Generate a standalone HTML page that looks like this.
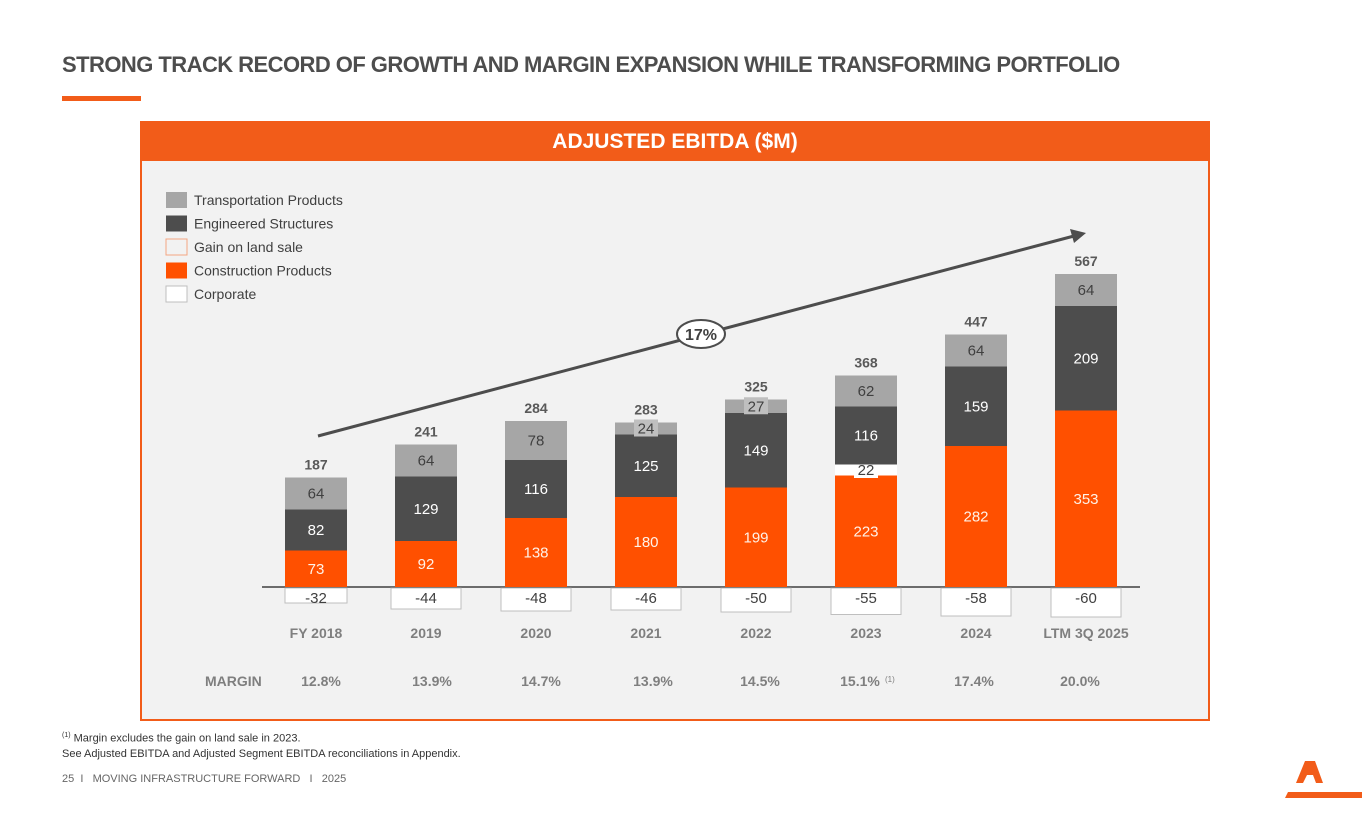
<!DOCTYPE html>
<html><head><meta charset="utf-8">
<style>
body{margin:0;width:1365px;height:829px;background:#fff;position:relative;overflow:hidden;font-family:"Liberation Sans",sans-serif;}
.t{position:absolute;white-space:nowrap;}
</style></head>
<body>
<div class="t" style="left:62px;top:52px;font-size:22px;font-weight:bold;color:#4d4d4d;letter-spacing:-0.55px;">STRONG TRACK RECORD OF GROWTH AND MARGIN EXPANSION WHILE TRANSFORMING PORTFOLIO</div>
<div style="position:absolute;left:62px;top:96px;width:79px;height:5px;background:#f25c19;"></div>
<div style="position:absolute;left:140px;top:121px;width:1066px;height:596px;background:#f2f2f2;border:2px solid #f25c19;"></div>
<div style="position:absolute;left:140px;top:121px;width:1070px;height:40px;background:#f25c19;color:#fff;font-weight:bold;font-size:21px;text-align:center;line-height:42px;">ADJUSTED EBITDA ($M)</div>
<svg id="c" width="1365" height="829" style="position:absolute;left:0;top:0;" font-family="Liberation Sans, sans-serif"></svg>
<div class="t" style="left:62px;top:728px;font-size:11px;color:#333;line-height:15px;"><sup style="font-size:7px">(1)</sup> Margin excludes the gain on land sale in 2023.<br>See Adjusted EBITDA and Adjusted Segment EBITDA reconciliations in Appendix.</div>
<div class="t" style="left:62px;top:773px;font-size:11px;color:#666;">25&nbsp; I &nbsp; MOVING INFRASTRUCTURE FORWARD &nbsp; I &nbsp; 2025</div>
<svg style="position:absolute;left:1285px;top:755px" width="80" height="45"><polygon points="20,6 30,6 38,28 31,28 28,20 22,20 18,28 11,28" fill="#f25c19"/><polygon points="3,37 77,37 77,43 0,43" fill="#f25c19"/></svg>
<script>
const categories=["FY 2018","2019","2020","2021","2022","2023","2024","LTM 3Q 2025"];
const construction=[73,92,138,180,199,223,282,353];
const landSale=[0,0,0,0,0,22,0,0];
const engineered=[82,129,116,125,149,116,159,209];
const transport=[64,64,78,24,27,62,64,64];
const corporate=[-32,-44,-48,-46,-50,-55,-58,-60];
const totals=[187,241,284,283,325,368,447,567];
const margins=["12.8%","13.9%","14.7%","13.9%","14.5%","15.1%","17.4%","20.0%"];
const legendLabels=["Transportation Products","Engineered Structures","Gain on land sale","Construction Products","Corporate"];
const cagr="17%";

const svg=document.getElementById('c');
const NS="http://www.w3.org/2000/svg";
const base=587, k=0.5, x0=316, step=110, bw=62;
const y=v=>base-v*k;
const xc=i=>x0+i*step;
const marginShift=[5,6,5,7,4,-6,-2,-6];
function el(tag,attrs,txt){const e=document.createElementNS(NS,tag);for(const a in attrs)e.setAttribute(a,attrs[a]);if(txt!=null)e.textContent=txt;svg.appendChild(e);return e;}
const lfill=["#a6a6a6","#4d4d4d","#f2f2f2","#ff5000","#fff"],lstroke=["none","none","#f4a582","none","#bfbfbf"];
legendLabels.forEach((l,i)=>{
 const r=el('rect',{x:166,y:192+i*23.5,width:21,height:16,fill:lfill[i],stroke:lstroke[i]});
 
 
 const t=el('text',{x:194,y:205+i*23.5,'font-size':14,fill:'#404040'},l);
 
 
});
const bl=el('line',{x1:262,x2:1140,y1:base,y2:base,stroke:'#404040','stroke-width':1.5});


function lab(x,yy,txt,fill,bg){
 if(bg){const w=txt.length*9+6;const r=el('rect',{x:x-w/2,y:yy-9,width:w,height:17,fill:bg});}
 const t=el('text',{x:x,y:yy+5,'font-size':15,fill:fill,'text-anchor':'middle'},txt);
 
 
}
categories.forEach((c,i)=>{
 const x=xc(i)-bw/2;let cum=0;
 const segs=[[construction[i],'#ff5000','#fff2e8',null],[landSale[i],'#fff','#404040','#fff'],[engineered[i],'#4d4d4d','#fff',null],[transport[i],'#a6a6a6','#404040',transport[i]<40?'#bfbfbf':null]];
 segs.forEach((s,j)=>{
  if(!s[0])return;
  const r=el('rect',{x:x,y:y(cum+s[0]),width:bw,height:s[0]*k,fill:s[1]});
  
  
  lab(xc(i),y(cum+s[0]/2),String(s[0]),s[2],s[3]);
  cum+=s[0];
 });
 const cw=bw+8;
 const cr=el('rect',{x:xc(i)-cw/2+(i==0?4:0),y:base+1,width:cw-(i==0?8:0),height:-corporate[i]*k-1,fill:'#fff',stroke:'#bfbfbf'});
 
 
 const ct=el('text',{x:xc(i),y:base+16,'font-size':15,fill:'#404040','text-anchor':'middle'},String(corporate[i]));
 
 
 const tt=el('text',{x:xc(i),y:y(cum)-8,'font-size':14,'font-weight':'bold',fill:'#595959','text-anchor':'middle'},String(totals[i]));
 
 
 const cl=el('text',{x:xc(i),y:638,'font-size':14,'font-weight':'bold',fill:'#7f7f7f','text-anchor':'middle'},c);
 
 
 const ml=el('text',{x:xc(i)+marginShift[i],y:686,'font-size':14,'font-weight':'bold',fill:'#7f7f7f','text-anchor':'middle'},margins[i]);
 
 
 if(i==5){const s=el('text',{x:xc(i)+marginShift[i]+25,y:682,'font-size':8,fill:'#7f7f7f'},'(1)');}
});
const mt=el('text',{x:205,y:686,'font-size':14,'font-weight':'bold',fill:'#7f7f7f'},'MARGIN');


const ar=el('line',{x1:318,y1:436,x2:1074,y2:236,stroke:'#4d4d4d','stroke-width':3});


const ah=el('polygon',{points:'1086,233 1070,229 1074,243',fill:'#4d4d4d'});


const ce=el('ellipse',{cx:701,cy:334,rx:24,ry:14,fill:'#fff',stroke:'#4d4d4d','stroke-width':2});


const cg=el('text',{x:701,y:340,'font-size':16,'font-weight':'bold',fill:'#404040','text-anchor':'middle'},cagr);


</script>
</body></html>
